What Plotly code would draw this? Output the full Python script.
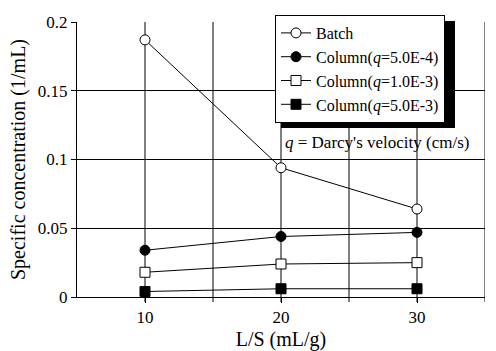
import plotly.graph_objects as go

ls = [10, 20, 30]
batch = [0.187, 0.094, 0.064]
col_5e4 = [0.034, 0.044, 0.047]
col_1e3 = [0.018, 0.024, 0.025]
col_5e3 = [0.004, 0.006, 0.006]

names = ["Batch", "Column(<i>q</i>=5.0E-4)", "Column(<i>q</i>=1.0E-3)", "Column(<i>q</i>=5.0E-3)"]
series = [batch, col_5e4, col_1e3, col_5e3]
symbols = ["circle", "circle", "square", "square"]
fills = ["white", "black", "white", "black"]

FONT = "Liberation Serif, Times New Roman, serif"
FS = 17
fig = go.Figure()
for n, s, sym, fc in zip(names, series, symbols, fills):
    fig.add_trace(go.Scatter(
        x=ls, y=s, name=n, mode="lines+markers",
        line=dict(color="black", width=1),
        marker=dict(symbol=sym, size=10, color=fc, line=dict(color="black", width=1)),
    ))

L, R, T, B = 77, 11, 22, 54
W, H = 496, 351
pw, ph = W - L - R, H - T - B

def px(xp):
    return (xp - L) / pw

def py(yp):
    return (H - B - yp) / ph

# legend shadow (pixels), offset 6 px right/down from the legend box
fig.add_shape(type="rect", xref="paper", yref="paper",
              x0=px(281), x1=px(455), y0=py(128), y1=py(21),
              fillcolor="black", line=dict(width=0), layer="above")

fig.add_annotation(text="<i>q</i> = Darcy's velocity (cm/s)", xref="paper", yref="paper",
                   x=px(283), y=py(142), xanchor="left", yanchor="middle",
                   showarrow=False, font=dict(family=FONT, size=FS, color="black"))

fig.update_layout(
    width=W, height=H,
    margin=dict(l=L, r=R, t=T, b=B, autoexpand=False),
    paper_bgcolor="white", plot_bgcolor="white",
    font=dict(family=FONT, size=FS, color="black"),
    legend=dict(x=px(275), y=py(15), xanchor="left", yanchor="top",
                bgcolor="white", bordercolor="black", borderwidth=1,
                itemwidth=30, tracegroupgap=0,
                font=dict(family=FONT, size=16, color="black")),
    showlegend=True,
)
fig.update_xaxes(range=[5, 35], tickvals=[10, 20, 30], ticktext=["10", "20", "30"],
                 showgrid=False, showline=True, linecolor="black", linewidth=1,
                 ticks="outside", ticklen=5, tickcolor="black", zeroline=False,
                 automargin=False,
                 title=dict(text="L/S (mL/g)", standoff=10))
fig.update_yaxes(range=[0, 0.2], tickvals=[0, 0.05, 0.1, 0.15, 0.2],
                 ticktext=["0", "0.05", "0.1", "0.15", "0.2"],
                 showgrid=True, gridcolor="black", gridwidth=1,
                 showline=True, linecolor="black", linewidth=1,
                 ticks="outside", ticklen=5, tickcolor="black", zeroline=False,
                 automargin=False,
                 title=dict(text="Specific concentration (1/mL)", standoff=6))
# vertical grid lines at 5-unit steps
for xv in [10, 15, 20, 25, 30, 35]:
    fig.add_shape(type="line", xref="x", yref="paper", x0=xv, x1=xv, y0=-5/ph, y1=1,
                  line=dict(color="black", width=1), layer="below")

fig.write_html("out.html")
